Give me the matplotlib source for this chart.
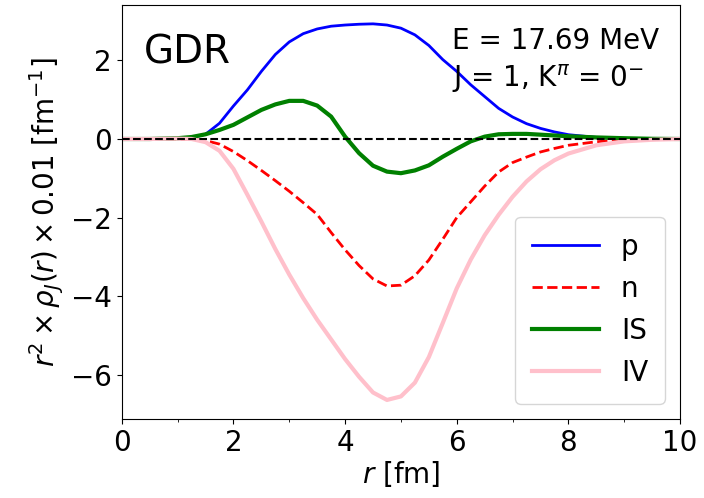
import numpy as np
import matplotlib
matplotlib.use("Agg")
import matplotlib.pyplot as plt

# radial grid and transition densities (r^2 * rho * 0.01)
r = [0, 0.5, 1.0, 1.25, 1.5, 1.75, 2.0, 2.25, 2.5, 2.75, 3.0, 3.25, 3.5, 3.75,
     4.0, 4.25, 4.5, 4.75, 5.0, 5.25, 5.5, 5.75, 6.0, 6.25, 6.5, 6.75, 7.0,
     7.25, 7.5, 7.75, 8.0, 8.5, 9.0, 9.5, 10.0]
rho_p = [0, 0, 0.01, 0.03, 0.12, 0.4, 0.84, 1.25, 1.72, 2.15, 2.47, 2.68, 2.8,
         2.87, 2.9, 2.92, 2.93, 2.9, 2.82, 2.65, 2.38, 2.02, 1.72, 1.38, 1.08,
         0.78, 0.56, 0.39, 0.27, 0.18, 0.11, 0.04, 0.015, 0.005, 0]
rho_n = [0, 0, 0, -0.01, -0.04, -0.13, -0.32, -0.55, -0.8, -1.06, -1.33, -1.62,
         -1.92, -2.38, -2.82, -3.22, -3.56, -3.74, -3.72, -3.48, -3.08, -2.55,
         -2.0, -1.6, -1.2, -0.84, -0.6, -0.46, -0.33, -0.24, -0.16, -0.07,
         -0.02, -0.005, 0]
rho_is = [0, 0, 0.02, 0.05, 0.12, 0.23, 0.36, 0.55, 0.74, 0.88, 0.97, 0.97,
          0.85, 0.57, 0.06, -0.36, -0.68, -0.83, -0.87, -0.8, -0.67, -0.45,
          -0.25, -0.06, 0.06, 0.12, 0.13, 0.13, 0.11, 0.09, 0.07, 0.04, 0.02,
          0.005, 0]
rho_iv = [0, 0, 0.01, 0.0, -0.08, -0.3, -0.76, -1.42, -2.1, -2.8, -3.45, -4.05,
          -4.6, -5.1, -5.6, -6.05, -6.45, -6.64, -6.55, -6.2, -5.55, -4.68,
          -3.8, -3.07, -2.45, -1.93, -1.47, -1.08, -0.77, -0.54, -0.37, -0.16,
          -0.06, -0.02, 0]

fig = plt.figure(figsize=(7.04, 4.98), dpi=100)
ax = fig.add_axes([0.173, 0.159, 0.793, 0.831])

ax.plot(r, rho_p, color="blue", lw=2, label="p")
ax.plot(r, rho_n, color="red", lw=2, ls="--", label="n")
ax.plot(r, rho_is, color="green", lw=3, label="IS")
ax.plot(r, rho_iv, color="pink", lw=3, label="IV")
ax.axhline(0, color="black", lw=1.5, ls="--")

ax.set_xlim(0, 10)
ax.set_ylim(-7.12, 3.41)
ax.set_xticks([0, 2, 4, 6, 8, 10])
ax.set_xticks([1, 3, 5, 7, 9], minor=True)
ax.set_yticks([-6, -4, -2, 0, 2])
ax.tick_params(labelsize=20)
ax.set_xlabel(r"$r$ [fm]", fontsize=20, labelpad=2)
ax.set_ylabel(r"$r^2\times\rho_J(r)\times0.01$ [fm$^{-1}$]", fontsize=20)

ax.text(0.04, 0.93, "GDR", transform=ax.transAxes, fontsize=28, va="top")
ax.text(0.592, 0.946, "E = 17.69 MeV\n" + r"J = 1, K$^{\pi}$ = 0$^{-}$",
        transform=ax.transAxes, fontsize=20, va="top", ha="left",
        linespacing=1.3)

ax.legend(loc="lower right", fontsize=20, handlelength=2.4,
          borderpad=0.6, borderaxespad=0.55)

fig.savefig("out.png", dpi=100)
